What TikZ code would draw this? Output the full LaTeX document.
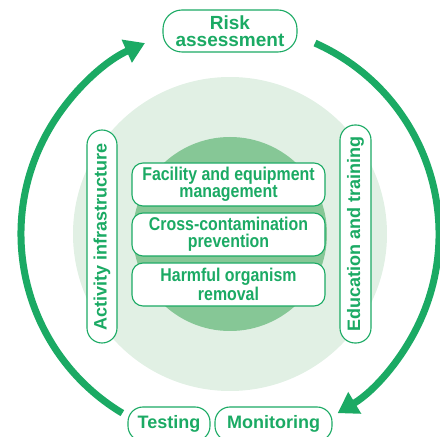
\documentclass[tikz,border=0pt]{standalone}
\usepackage{fontspec}
\setmainfont{Liberation Sans}
\newfontfamily\narrowsans[FakeStretch=0.86]{Liberation Sans}
\usetikzlibrary{arrows.meta}
\definecolor{leafgreen}{RGB}{27,170,100}
\definecolor{palegreen}{RGB}{225,240,228}
\definecolor{midgreen}{RGB}{134,199,150}
\tikzstyle{pill} = [draw=leafgreen,line width=1.1pt,fill=white,rounded corners=15pt,text=leafgreen,align=center,inner sep=0pt,font=\bfseries\fontsize{18}{17}\selectfont]

\begin{document}
\begin{tikzpicture}
		[
		x=1pt,y=1pt,
		block/.style={
		pill,
		rounded corners=11pt,
		minimum width=193pt,
		minimum height=43pt,
		font=\narrowsans\bfseries\fontsize{18.5}{17}\selectfont},
		side/.style={pill,rotate=90,minimum height=30pt},
		cycle/.style={leafgreen,line width=7pt,-{Triangle[length=20pt,width=24pt]}}
		]
		\useasboundingbox (0,0) rectangle (440,437);
		\coordinate (hub) at (230,203);
		\fill[palegreen] (hub) circle (157pt);
		\fill[midgreen] (hub) circle (97pt);
		% the cycle round the outside
		\draw[cycle] (hub) ++(239:209pt) arc[start angle=239,end angle=114,radius=209pt];
		\draw[cycle] (hub) ++(66:209pt) arc[start angle=66,end angle=-59,radius=209pt];
		\node[pill,rounded corners=19pt,minimum width=134pt,minimum height=42pt,font=\bfseries\fontsize{19}{17.5}\selectfont] (risk) at (230,406) {Risk\\assessment};
		\node[pill,minimum width=82pt,minimum height=34pt] (testing) at (169,13) {Testing};
		\node[pill,minimum width=117pt,minimum height=34pt] (monitoring) at (273.5,13) {Monitoring};
		\node[side,minimum width=213pt] (infra) at (102,200.5) {Activity infrastructure};
		\node[side,minimum width=218pt,minimum height=31pt] (training) at (355.5,203) {Education and training};
		% measures in the middle
		\node[block,node distance=50pt] (facility) at (228.5,252.5) {Facility and equipment\\management};
		\node[block,node distance=50pt,below of=facility] (cross) {Cross-contamination\\prevention};
		\node[block,node distance=50pt,below of=cross] (harmful) {Harmful organism\\removal};
		\end{tikzpicture}
\end{document}
